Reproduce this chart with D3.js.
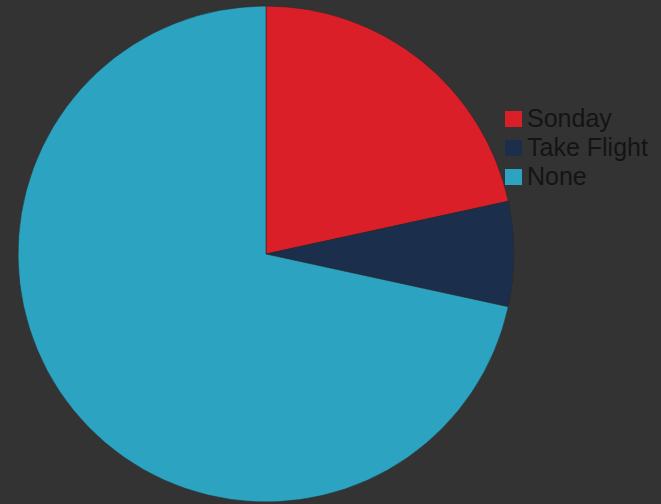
<!DOCTYPE html>
<html>
<head>
<meta charset="utf-8">
<script src="https://cdn.jsdelivr.net/npm/d3@7"></script>
<style>
  html, body { margin: 0; padding: 0; background: #333333; }
  svg { display: block; }
</style>
</head>
<body>
<svg id="chart" width="661" height="504"></svg>
<script>
// Survey answers
const categories = ["Sonday", "Take Flight", "None"];
const values = [19, 6, 63];
const colors = ["#da1f28", "#1b2e4c", "#2ba3c1"];

const svg = d3.select("#chart");
const cx = 266, cy = 254, radius = 248;

const pie = d3.pie().sort(null).value(d => d.value);
const arc = d3.arc().innerRadius(0).outerRadius(radius);
const data = categories.map((c, i) => ({ name: c, value: values[i] }));
const color = d3.scaleOrdinal().domain(categories).range(colors);

svg.append("g")
  .attr("transform", `translate(${cx},${cy})`)
  .selectAll("path")
  .data(pie(data))
  .join("path")
  .attr("d", arc)
  .attr("fill", d => color(d.data.name))
  .attr("stroke", "#2a2a2a")
  .attr("stroke-width", 0.6);

// Legend
const legend = svg.append("g").attr("transform", "translate(505,111)");
const row = legend.selectAll("g")
  .data(categories)
  .join("g")
  .attr("transform", (d, i) => `translate(0,${i * 29})`);
row.append("rect")
  .attr("width", 17).attr("height", 16)
  .attr("fill", d => color(d));
row.append("text")
  .attr("x", 22).attr("y", 16)
  .attr("font-family", "Liberation Sans, Arial, sans-serif")
  .attr("font-size", 25)
  .attr("fill", "#141414")
  .text(d => d);
</script>
</body>
</html>
